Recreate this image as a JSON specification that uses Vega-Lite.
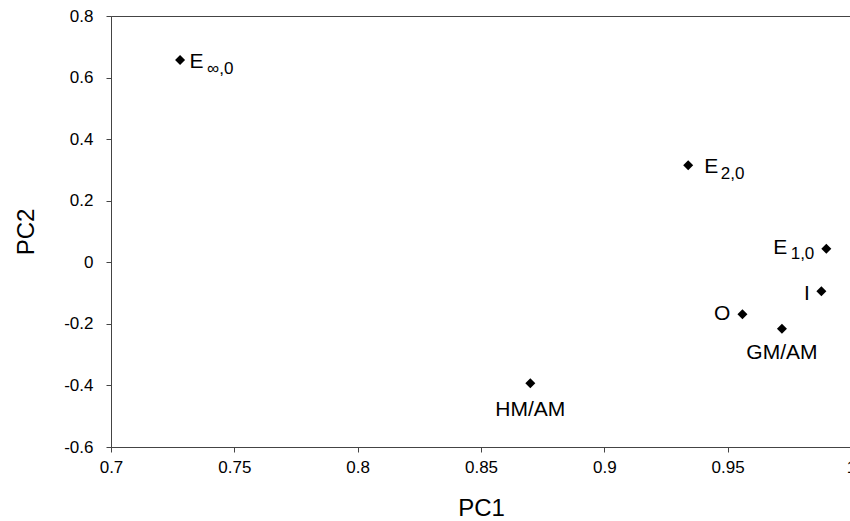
{
  "$schema": "https://vega.github.io/schema/vega-lite/v6.json",
  "autosize": "none",
  "padding": {"left": 111, "top": 16, "right": 0, "bottom": 74},
  "width": 740,
  "height": 431,
  "config": {
    "font": "Liberation Sans",
    "view": {"stroke": "#444", "strokeWidth": 1},
    "axis": {
      "grid": false,
      "domainColor": "#444",
      "tickColor": "#444",
      "tickSize": 5,
      "labelFlush": false,
      "labelColor": "#000",
      "labelFontSize": 17,
      "labelFont": "Liberation Sans",
      "titleFont": "Liberation Sans",
      "titleFontSize": 24,
      "titleFontWeight": "normal",
      "titleColor": "#000"
    }
  },
  "data": {
    "values": [
      {"name": "E∞,0", "main": "E", "sub": "∞,0", "pc1": 0.728, "pc2": 0.657},
      {"name": "E2,0", "main": "E", "sub": "2,0", "pc1": 0.934, "pc2": 0.315},
      {"name": "E1,0", "main": "E", "sub": "1,0", "pc1": 0.990, "pc2": 0.044},
      {"name": "I", "main": "I", "sub": "", "pc1": 0.988, "pc2": -0.094},
      {"name": "O", "main": "O", "sub": "", "pc1": 0.956, "pc2": -0.169},
      {"name": "GM/AM", "main": "GM/AM", "sub": "", "pc1": 0.972, "pc2": -0.216},
      {"name": "HM/AM", "main": "HM/AM", "sub": "", "pc1": 0.870, "pc2": -0.393}
    ]
  },
  "encoding": {
    "x": {
      "field": "pc1", "type": "quantitative", "title": "PC1",
      "scale": {"domain": [0.7, 1.0], "nice": false, "zero": false},
      "axis": {"values": [0.7, 0.75, 0.8, 0.85, 0.9, 0.95, 1.0], "format": "~g", "labelFlush": false, "labelPadding": 7, "titlePadding": 21}
    },
    "y": {
      "field": "pc2", "type": "quantitative", "title": "PC2",
      "scale": {"domain": [-0.6, 0.8], "nice": false, "zero": false},
      "axis": {"values": [-0.6, -0.4, -0.2, 0, 0.2, 0.4, 0.6, 0.8], "format": "~g", "labelFlush": false, "labelExpr": "replace(datum.label, '−', '-')", "labelPadding": 13, "titlePadding": 25}
    }
  },
  "layer": [
    {"mark": {"type": "point", "shape": "diamond", "filled": true, "color": "#000", "size": 100, "opacity": 1, "strokeWidth": 0}},
    {
      "transform": [{"filter": "datum.name == 'E∞,0'"}],
      "layer": [
        {"mark": {"type": "text", "align": "left", "baseline": "alphabetic", "dx": 9.5, "dy": 8.3, "fontSize": 21, "color": "#000"}, "encoding": {"text": {"field": "main"}}},
        {"mark": {"type": "text", "align": "left", "baseline": "alphabetic", "dx": 27, "dy": 14, "fontSize": 17, "color": "#000"}, "encoding": {"text": {"field": "sub"}}}
      ]
    },
    {
      "transform": [{"filter": "datum.name == 'E2,0'"}],
      "layer": [
        {"mark": {"type": "text", "align": "left", "baseline": "alphabetic", "dx": 16, "dy": 7.6, "fontSize": 21, "color": "#000"}, "encoding": {"text": {"field": "main"}}},
        {"mark": {"type": "text", "align": "left", "baseline": "alphabetic", "dx": 32.5, "dy": 13.3, "fontSize": 17, "color": "#000"}, "encoding": {"text": {"field": "sub"}}}
      ]
    },
    {
      "transform": [{"filter": "datum.name == 'E1,0'"}],
      "layer": [
        {"mark": {"type": "text", "align": "right", "baseline": "alphabetic", "dx": -39, "dy": 5.7, "fontSize": 21, "color": "#000"}, "encoding": {"text": {"field": "main"}}},
        {"mark": {"type": "text", "align": "right", "baseline": "alphabetic", "dx": -12, "dy": 10.7, "fontSize": 17, "color": "#000"}, "encoding": {"text": {"field": "sub"}}}
      ]
    },
    {
      "transform": [{"filter": "datum.name == 'I'"}],
      "mark": {"type": "text", "align": "right", "baseline": "alphabetic", "dx": -11.5, "dy": 8.3, "fontSize": 21, "color": "#000"},
      "encoding": {"text": {"field": "main"}}
    },
    {
      "transform": [{"filter": "datum.name == 'O'"}],
      "mark": {"type": "text", "align": "right", "baseline": "alphabetic", "dx": -12, "dy": 6, "fontSize": 21, "color": "#000"},
      "encoding": {"text": {"field": "main"}}
    },
    {
      "transform": [{"filter": "datum.name == 'GM/AM'"}],
      "mark": {"type": "text", "align": "center", "baseline": "alphabetic", "dx": 0, "dy": 30, "fontSize": 21, "color": "#000"},
      "encoding": {"text": {"field": "main"}}
    },
    {
      "transform": [{"filter": "datum.name == 'HM/AM'"}],
      "mark": {"type": "text", "align": "center", "baseline": "alphabetic", "dx": 0, "dy": 33, "fontSize": 21, "color": "#000"},
      "encoding": {"text": {"field": "main"}}
    }
  ]
}
